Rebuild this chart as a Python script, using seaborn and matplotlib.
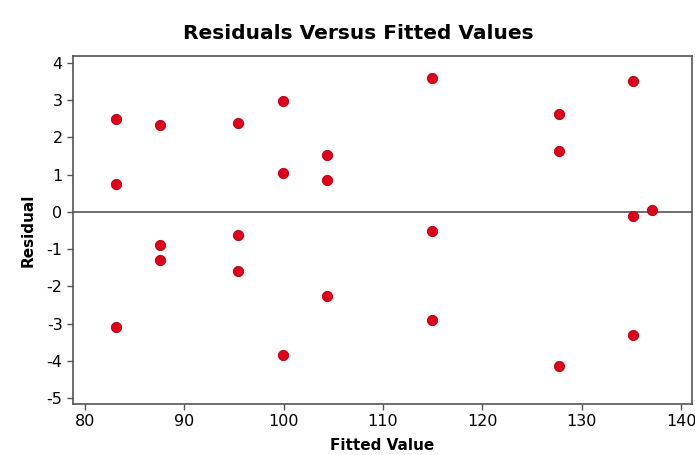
import matplotlib
matplotlib.use("Agg")
import pandas as pd
import matplotlib.pyplot as plt
import seaborn as sns

# Data
ajustados = [83.1, 83.1, 83.1,
             87.6, 87.6, 87.6,
             95.4, 95.4, 95.4,
             99.95, 99.95, 99.95,
             104.4, 104.4, 104.4,
             114.9, 114.9, 114.9,
             127.7, 127.7, 127.7,
             135.2, 135.2, 135.2,
             137.1]
residuos = [2.49, 0.74, -3.10,
            2.33, -0.90, -1.28,
            2.38, -0.63, -1.59,
            2.97, 1.04, -3.84,
            1.53, 0.85, -2.26,
            3.60, -0.52, -2.89,
            2.64, 1.65, -4.14,
            3.51, -0.10, -3.30,
            0.05]
ticks_x = [80, 90, 100, 110, 120, 130, 140]
ticks_y = [4, 3, 2, 1, 0, -1, -2, -3, -4, -5]

COR_PONTO = "#e0001a"
COR_BORDA = "#555555"

df = pd.DataFrame({"ajustado": ajustados, "residuo": residuos})

sns.set_theme(style="white")
plt.rcParams['font.family'] = ['DejaVu Sans']
plt.rcParams['axes.unicode_minus'] = False
plt.rcParams['text.color'] = 'black'
plt.rcParams['axes.labelcolor'] = 'black'
plt.rcParams['xtick.color'] = 'black'
plt.rcParams['ytick.color'] = 'black'

fig = plt.figure(figsize=(6.95, 4.55), dpi=100)
ax = fig.add_axes([0.105, 0.112, 0.8907, 0.765])

ax.axhline(0, color="#555555", lw=1.2, zorder=1)
sns.scatterplot(data=df, x="ajustado", y="residuo", ax=ax, s=55,
                color=COR_PONTO, edgecolor="#b00010", linewidth=0.6, zorder=3)

ax.set_xlim(78.8, 141.1)
ax.set_ylim(-5.16, 4.19)
ax.set_xticks(ticks_x)
ax.set_yticks(ticks_y)
ax.tick_params(axis='both', which='major', direction='out', length=4, width=1,
               color=COR_BORDA, labelcolor='black', labelsize=11.5,
               left=True, bottom=True)

for lado in ax.spines.values():
    lado.set_color(COR_BORDA)
    lado.set_linewidth(1.2)

ax.set_xlabel("Fitted Value", fontsize=11, fontweight="bold", labelpad=6,
              color='black')
ax.set_ylabel("Residual", fontsize=11, fontweight="bold", labelpad=8,
              color='black')
fig.text(0.515, 0.927, "Residuals Versus Fitted Values", ha="center", va="center",
         fontsize=14.5, fontweight="bold", color='black')

fig.savefig("out.png", dpi=100)
